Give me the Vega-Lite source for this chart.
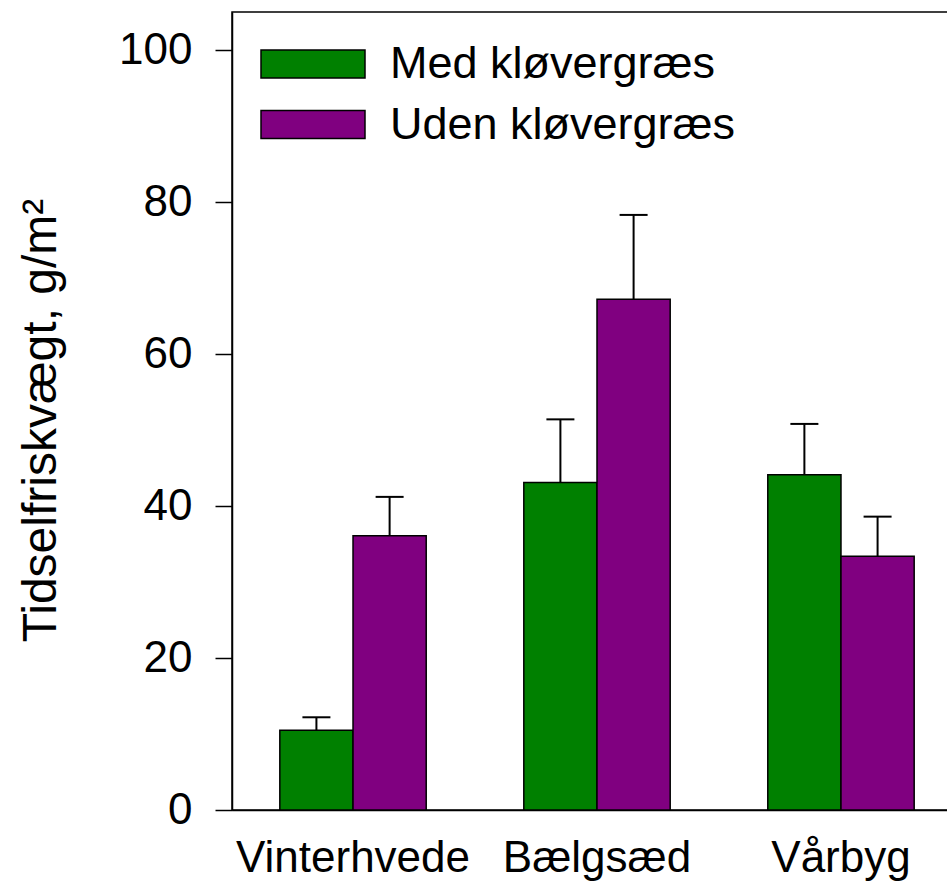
{
  "$schema": "https://vega.github.io/schema/vega-lite/v6.json",
  "width": 730,
  "height": 798,
  "autosize": "none",
  "padding": {"left": 232, "top": 12, "right": 0, "bottom": 73},
  "background": "white",
  "config": {
    "font": "Liberation Sans",
    "view": {"stroke": "black", "strokeWidth": 1.5},
    "axis": {
      "grid": false,
      "domainColor": "black",
      "domainWidth": 1.5,
      "tickColor": "black",
      "tickWidth": 1.5,
      "labelColor": "black",
      "labelFontSize": 44,
      "labelLimit": 0,
      "titleColor": "black",
      "titleFontSize": 48,
      "titleFontWeight": "normal"
    }
  },
  "data": {
    "values": [
      {"crop": "Vinterhvede", "group": "Med kløvergræs", "mean": 10.5, "upper": 12.2},
      {"crop": "Vinterhvede", "group": "Uden kløvergræs", "mean": 36.1, "upper": 41.2},
      {"crop": "Bælgsæd", "group": "Med kløvergræs", "mean": 43.1, "upper": 51.4},
      {"crop": "Bælgsæd", "group": "Uden kløvergræs", "mean": 67.2, "upper": 78.3},
      {"crop": "Vårbyg", "group": "Med kløvergræs", "mean": 44.1, "upper": 50.8},
      {"crop": "Vårbyg", "group": "Uden kløvergræs", "mean": 33.4, "upper": 38.6}
    ]
  },
  "encoding": {
    "x": {
      "field": "crop",
      "type": "nominal",
      "sort": ["Vinterhvede", "Bælgsæd", "Vårbyg"],
      "scale": {"paddingInner": 0.4, "paddingOuter": 0.196},
      "axis": {"title": null, "labelAngle": 0, "ticks": false, "labelPadding": 26}
    },
    "xOffset": {
      "field": "group",
      "type": "nominal",
      "sort": ["Med kløvergræs", "Uden kløvergræs"],
      "scale": {"paddingInner": 0, "paddingOuter": 0}
    }
  },
  "layer": [
    {
      "mark": {"type": "bar", "stroke": "black", "strokeWidth": 1.5},
      "encoding": {
        "y": {
          "field": "mean",
          "type": "quantitative",
          "scale": {"domain": [0, 105], "nice": false},
          "axis": {
            "title": "Tidselfriskvægt, g/m²",
            "values": [0, 20, 40, 60, 80, 100],
            "tickSize": 17,
            "labelPadding": 23,
            "titlePadding": 53,
            "titleY": 408
          }
        },
        "color": {
          "field": "group",
          "type": "nominal",
          "sort": ["Med kløvergræs", "Uden kløvergræs"],
          "scale": {"domain": ["Med kløvergræs", "Uden kløvergræs"], "range": ["#008000", "#800080"]},
          "legend": {
            "title": null,
            "orient": "none",
            "legendX": 28,
            "legendY": 30,
            "padding": 0,
            "clipHeight": 44,
            "symbolType": "M-1,-0.27H1V0.27H-1Z",
            "symbolSize": 10816,
            "symbolStrokeColor": "black",
            "symbolStrokeWidth": 1.5,
            "symbolOpacity": 1,
            "labelFontSize": 45,
            "labelLimit": 0,
            "labelColor": "black",
            "labelOffset": 24,
            "rowPadding": 15.5
          }
        }
      }
    },
    {
      "mark": {"type": "rule", "color": "black", "strokeWidth": 2},
      "encoding": {
        "y": {"field": "mean", "type": "quantitative"},
        "y2": {"field": "upper"}
      }
    },
    {
      "mark": {"type": "tick", "orient": "horizontal", "color": "black", "size": 28, "thickness": 2, "opacity": 1},
      "encoding": {
        "y": {"field": "upper", "type": "quantitative"}
      }
    }
  ]
}
